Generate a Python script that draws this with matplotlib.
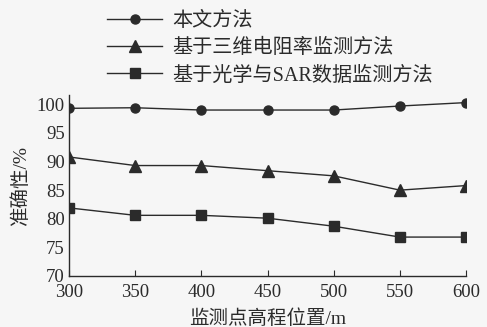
import matplotlib.pyplot as plt

# 数据
heights = [300, 350, 400, 450, 500, 550, 600]
ours = [99.3, 99.4, 99.0, 99.0, 99.0, 99.7, 100.3]
resist3d = [90.8, 89.3, 89.3, 88.4, 87.5, 85.0, 85.8]
optical_sar = [81.9, 80.6, 80.6, 80.1, 78.7, 76.8, 76.8]
labels = ['本文方法', '基于三维电阻率监测方法', '基于光学与SAR数据监测方法']

plt.rcParams['font.family'] = ['Liberation Serif', 'Noto Sans CJK SC']
bg = '#f6f6f6'
ink = '#2b2b2b'

fig = plt.figure(figsize=(4.87, 3.27), dpi=100, facecolor=bg)
ax = fig.add_axes([0.1417, 0.156, 0.957 - 0.1417, 0.709 - 0.156], facecolor=bg)

ax.plot(heights, ours, color=ink, lw=1.0, marker='o', ms=6.5, label=labels[0])
ax.plot(heights, resist3d, color=ink, lw=1.0, marker='^', ms=9, label=labels[1])
ax.plot(heights, optical_sar, color=ink, lw=1.0, marker='s', ms=6.5, label=labels[2])

ax.set_xlim(300, 600)
ax.set_ylim(70, 101.6)
ax.set_xticks(heights)
ax.set_yticks([70, 75, 80, 85, 90, 95, 100])
for s in ['top', 'right']:
    ax.spines[s].set_visible(False)
for s in ['left', 'bottom']:
    ax.spines[s].set_color(ink)
    ax.spines[s].set_linewidth(1.0)
ax.tick_params(axis='x', direction='in', length=4, color=ink, labelsize=13.5, labelcolor=ink, pad=6)
ax.tick_params(axis='y', length=0, labelsize=13.5, labelcolor=ink, pad=3)
ax.set_xlabel('监测点高程位置/m', fontsize=14, color=ink, labelpad=6)
ax.set_ylabel('准确性/%', fontsize=14, color=ink, labelpad=5)

fig.legend(loc='upper left', bbox_to_anchor=(0.2, 0.994), frameon=False,
           fontsize=14.5, handlelength=2.7, labelspacing=0.4, handletextpad=0.5,
           borderaxespad=0.1, labelcolor=ink)

fig.savefig('out.png', dpi=100, facecolor=bg)
